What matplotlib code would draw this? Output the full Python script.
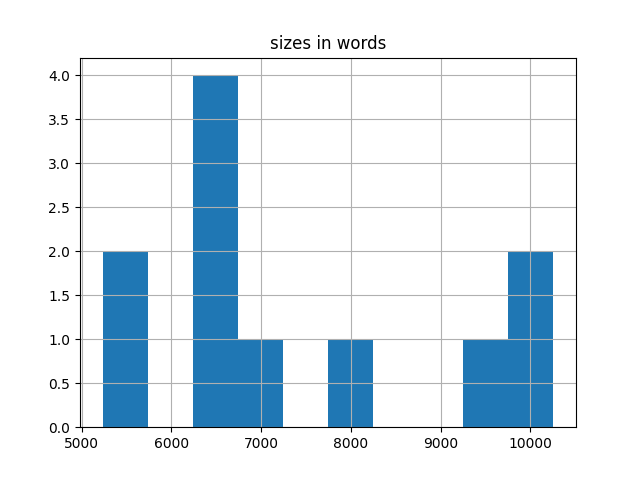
import matplotlib
matplotlib.use('Agg')
import matplotlib.pyplot as plt
import pandas as pd

# word counts per document
sizes = [5234, 5610, 6300, 6450, 6520, 6690, 6900, 8010, 9500, 10080, 10257]

df = pd.DataFrame({'sizes in words': sizes})
df.hist(column='sizes in words', bins=10)

plt.savefig('out.png')
